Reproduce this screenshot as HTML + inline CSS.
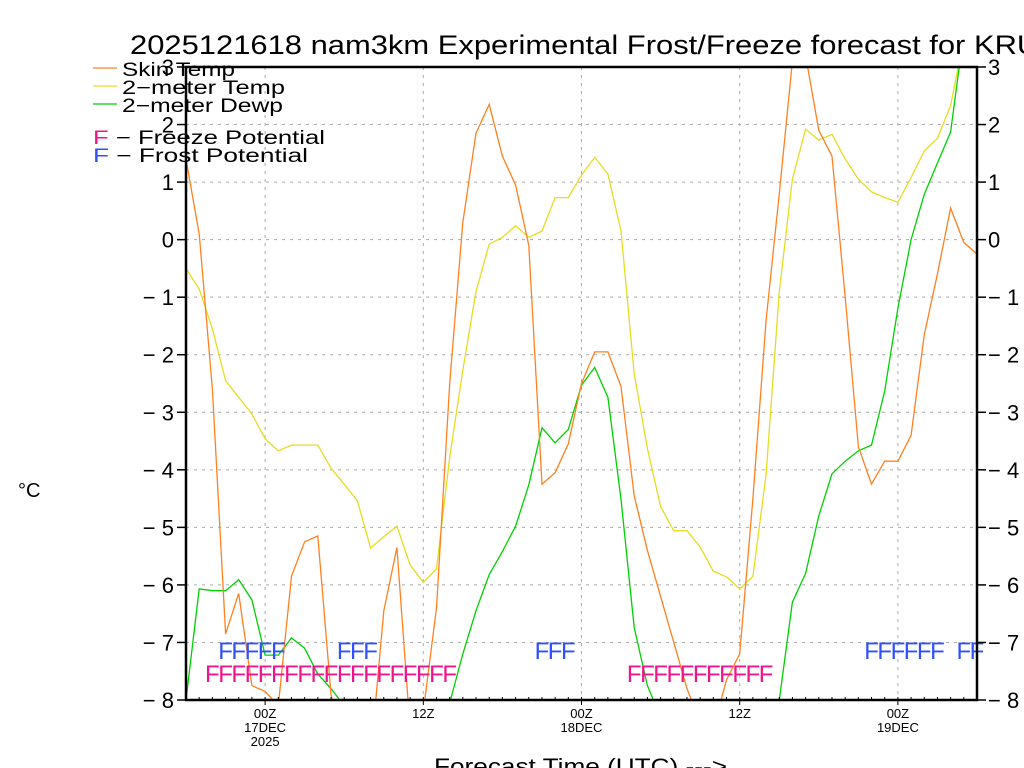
<!DOCTYPE html>
<html><head><meta charset="utf-8"><style>
html,body{margin:0;padding:0;background:#fff;}
svg{display:block;font-family:"Liberation Sans",sans-serif;}
</style></head><body>
<svg id="chart" width="1024" height="768" viewBox="0 0 1024 768">
<defs><clipPath id="plotclip"><rect x="186" y="67" width="791" height="633"/></clipPath></defs>
<text x="130" y="54" font-size="27" fill="#000" textLength="935" lengthAdjust="spacingAndGlyphs">2025121618 nam3km Experimental Frost/Freeze forecast for KRUM</text>
<g id="grid"></g>
<g id="series" clip-path="url(#plotclip)"></g>
<g id="flags"></g>
<rect x="186" y="67" width="791" height="633" fill="none" stroke="#000" stroke-width="2.5"/>
<g id="axes"></g>
<g>
<line x1="93" y1="68" x2="117" y2="68" stroke="#ff8020" stroke-width="1.3"/>
<text x="122" y="76" font-size="19" textLength="113" lengthAdjust="spacingAndGlyphs">Skin Temp</text>
<line x1="93" y1="86" x2="117" y2="86" stroke="#e6dc20" stroke-width="1.3"/>
<text x="122" y="94" font-size="19" textLength="163" lengthAdjust="spacingAndGlyphs">2−meter Temp</text>
<line x1="93" y1="104" x2="117" y2="104" stroke="#00d000" stroke-width="1.3"/>
<text x="122" y="112" font-size="19" textLength="161" lengthAdjust="spacingAndGlyphs">2−meter Dewp</text>
<text x="93" y="144" font-size="19" textLength="232" lengthAdjust="spacingAndGlyphs"><tspan fill="#f0148c">F</tspan> − Freeze Potential</text>
<text x="93" y="162" font-size="19" textLength="215" lengthAdjust="spacingAndGlyphs"><tspan fill="#3050ff">F</tspan> − Frost Potential</text>
</g>
<text x="18" y="497" font-size="20">°C</text>
<text x="434" y="774" font-size="22" textLength="293" lengthAdjust="spacingAndGlyphs">Forecast Time (UTC) ---&gt;</text>
</svg>
<script>
const hours = [];
for (let h = -6; h <= 54; h++) hours.push(h);
const skinTemp = [1.4,0.1,-2.6,-6.85,-6.15,-7.75,-7.85,-8.1,-5.85,-5.25,-5.15,-7.9,-9,-9,-9,-6.45,-5.35,-8.5,-8.2,-6.4,-2.5,0.3,1.85,2.35,1.45,0.95,-0.1,-4.25,-4.05,-3.55,-2.5,-1.95,-1.95,-2.55,-4.45,-5.4,-6.2,-7.0,-7.8,-8.4,-8.5,-7.65,-7.2,-4.5,-1.4,0.8,3.1,3.2,1.9,1.45,-1.0,-3.6,-4.25,-3.85,-3.85,-3.4,-1.65,-0.6,0.55,-0.05,-0.25];
const temp2m = [-0.5,-0.86,-1.55,-2.45,-2.74,-3.03,-3.46,-3.67,-3.57,-3.57,-3.57,-3.97,-4.25,-4.54,-5.36,-5.16,-4.98,-5.65,-5.96,-5.72,-3.78,-2.27,-0.9,-0.08,0.04,0.24,0.04,0.15,0.73,0.73,1.12,1.43,1.14,0.15,-2.33,-3.63,-4.64,-5.06,-5.06,-5.34,-5.76,-5.86,-6.07,-5.85,-4.08,-0.9,1.05,1.92,1.73,1.83,1.4,1.05,0.83,0.73,0.65,1.08,1.54,1.76,2.33,3.5,4.2];
const dewp2m = [-8.0,-6.07,-6.1,-6.1,-5.91,-6.26,-7.22,-7.22,-6.92,-7.1,-7.55,-7.8,-8.1,-9,-9,-9,-9,-9,-9,-8.6,-8.05,-7.2,-6.45,-5.82,-5.42,-4.98,-4.26,-3.27,-3.53,-3.3,-2.53,-2.22,-2.74,-4.51,-6.74,-7.75,-8.3,-9,-9,-9,-9,-9,-9,-9,-9,-8.0,-6.3,-5.8,-4.8,-4.07,-3.85,-3.67,-3.57,-2.63,-1.19,0.0,0.79,1.33,1.87,3.6,4.5];
const freezeHours = [-4,-3,-2,-1,0,1,2,3,4,5,6,7,8,9,10,11,12,13,14,28,29,30,31,32,33,34,35,36,37,38];
const frostHours = [-3,-2,-1,0,1,6,7,8,21,22,23,46,47,48,49,50,51,53,54];
const yTicks = [3,2,1,0,-1,-2,-3,-4,-5,-6,-7,-8];
const xMajorHours = [0,12,24,36,48];
const xLabels = [["00Z","17DEC","2025"],["12Z"],["00Z","18DEC"],["12Z"],["00Z","19DEC"]];

const NS = "http://www.w3.org/2000/svg";
const X0 = 186, X1 = 977, Y0 = 67, Y1 = 700, HMIN = -6, HMAX = 54, TMIN = -8, TMAX = 3;
const xs = h => X0 + (h - HMIN) / (HMAX - HMIN) * (X1 - X0);
const ys = t => Y1 - (t - TMIN) / (TMAX - TMIN) * (Y1 - Y0);
function mk(tag, attrs, parent) { const e = document.createElementNS(NS, tag); for (const k in attrs) e.setAttribute(k, attrs[k]); parent.appendChild(e); return e; }
const grid = document.getElementById('grid'), axes = document.getElementById('axes'), series = document.getElementById('series'), flags = document.getElementById('flags');

yTicks.forEach(t => {
  const y = ys(t);
  if (t > TMIN && t < TMAX) {
    const g = mk('line', {x1: X0, x2: X1, y1: y, y2: y, stroke: '#aaa', 'stroke-dasharray': '3,5', 'stroke-width': 1}, grid);
    
    
  }
  const tl = mk('line', {x1: X0 - 9, x2: X0, y1: y, y2: y, stroke: '#000', 'stroke-width': 1.5}, axes);
  
  
  const tr = mk('line', {x1: X1, x2: X1 + 9, y1: y, y2: y, stroke: '#000', 'stroke-width': 1.5}, axes);
  
  
  const lab = t < 0 ? '− ' + Math.abs(t) : String(t);
  const l = mk('text', {x: X0 - 12, y: y + 8, 'font-size': 22, 'text-anchor': 'end'}, axes);
  l.textContent = lab;
  
  
  const r = mk('text', {x: X1 + 11, y: y + 8, 'font-size': 22}, axes);
  r.textContent = lab;
  
  
});
xMajorHours.forEach((h, i) => {
  const x = xs(h);
  const g = mk('line', {x1: x, x2: x, y1: Y0, y2: Y1, stroke: '#aaa', 'stroke-dasharray': '3,5', 'stroke-width': 1}, grid);
  
  
  const tk = mk('line', {x1: x, x2: x, y1: Y1, y2: Y1 + 5, stroke: '#000', 'stroke-width': 1}, axes);
  
  
  xLabels[i].forEach((s, j) => {
    const t = mk('text', {x: x, y: Y1 + 18 + j * 14, 'font-size': 13, 'text-anchor': 'middle'}, axes);
    t.textContent = s;
    
    
  });
});
hours.forEach(h => {
  const x = xs(h);
  const m = mk('line', {x1: x, x2: x, y1: Y1 - 3, y2: Y1, stroke: '#000', 'stroke-width': 1}, axes);
  
  
});
function line(vals, color, name) {
  const pts = vals.map((v, i) => xs(hours[i]).toFixed(1) + ',' + ys(v).toFixed(1)).join(' ');
  const p = mk('polyline', {points: pts, fill: 'none', stroke: color, 'stroke-width': 1.3}, series);
  
  
}
line(dewp2m, '#00d000', 'dewpoint-line');
line(temp2m, '#e6dc20', 'temperature-line');
line(skinTemp, '#ff8020', 'skin-temp-line');
freezeHours.forEach(h => {
  const t = mk('text', {x: xs(h), y: 682, 'font-size': 24, 'text-anchor': 'middle', fill: '#f0148c'}, flags);
  t.textContent = 'F';
  
  
});
frostHours.forEach(h => {
  const t = mk('text', {x: xs(h), y: 659, 'font-size': 24, 'text-anchor': 'middle', fill: '#3050ff'}, flags);
  t.textContent = 'F';
  
  
});
</script>
</body></html>
